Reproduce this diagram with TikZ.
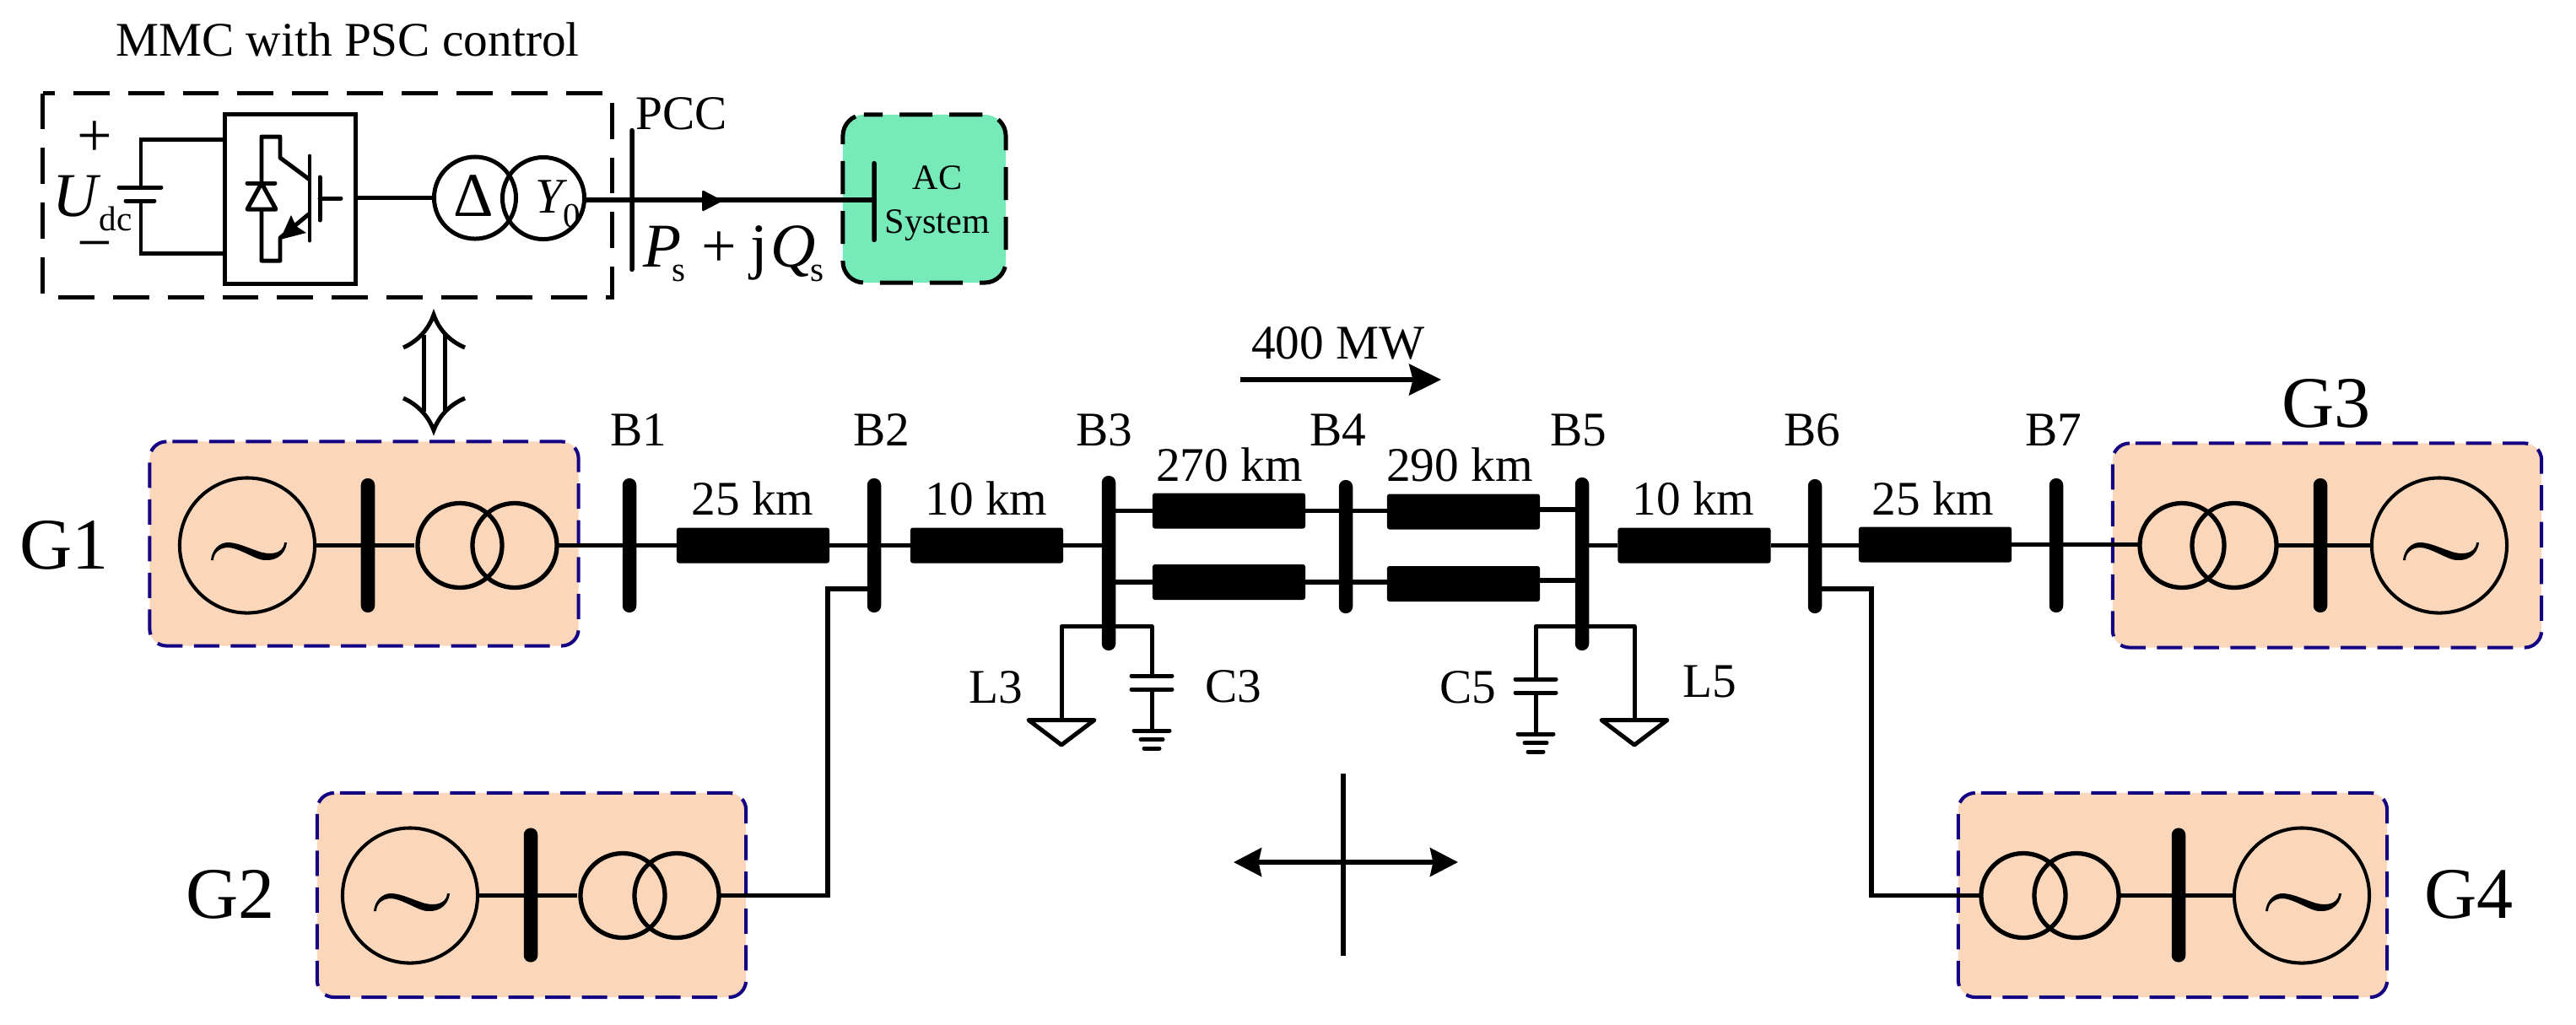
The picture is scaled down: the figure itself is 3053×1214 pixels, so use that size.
\documentclass[tikz,border=0pt]{standalone}
\usepackage{fontspec}
\setmainfont{Liberation Serif}
\usetikzlibrary{arrows.meta}
\definecolor{peach}{RGB}{250,215,187}
\definecolor{navybox}{RGB}{20,0,130}
\definecolor{acgreen}{RGB}{118,235,185}
\tikzset{
  wire/.style={line width=1.5pt,line join=miter,black},
  thinw/.style={line width=1.42pt,line join=round,black},
  bus/.style={rectangle,fill=black,rounded corners=2.3pt,minimum width=0.165cm,minimum height=1.59cm,inner sep=0pt,outer sep=0pt},
  thinbus/.style={rectangle,fill=black,rounded corners=0.7pt,minimum width=0.055cm,inner sep=0pt,outer sep=0pt},
  tline/.style={rectangle,fill=black,rounded corners=0.8pt,minimum width=1.81cm,minimum height=0.42cm,inner sep=0pt,outer sep=0pt},
  genr/.style={circle,draw=black,line width=1.15pt,minimum size=1.6cm,inner sep=0pt,outer sep=0pt},
  xfm/.style={circle,draw=black,line width=1.5pt,minimum size=1.0cm,inner sep=0pt,outer sep=0pt},
  xfd/.style={circle,draw=black,line width=1.42pt,minimum size=0.97cm,inner sep=0pt,outer sep=0pt},
  genbox/.style={rectangle,fill=peach,rounded corners=0.2cm,minimum width=5.08cm,minimum height=2.42cm,inner sep=0pt,outer sep=0pt},
  gendash/.style={draw=navybox,line width=1.15pt,rounded corners=0.2cm,dash pattern=on 8.54pt off 3.84pt,dash phase=10.4pt},
  lab/.style={font=\fontsize{16.3}{18}\selectfont,inner sep=0pt,outer sep=0pt},
  biglab/.style={font=\fontsize{24.5}{27}\selectfont,inner sep=0pt,outer sep=0pt},
  bare/.style={inner sep=0pt,outer sep=0pt},
  tiptop/.style={-{Stealth[length=10.8pt,width=10.5pt,inset=1.3pt]}},
  tipboth/.style={{Stealth[length=9.4pt,width=9.6pt,inset=1pt]}-{Stealth[length=9.4pt,width=9.6pt,inset=1pt]}},
}
\newcommand{\mytilde}[2]{%
  \fill[black,shift={(#1,#2)}] (-43,18) .. controls (-42,6) and (-33,-3) .. (-23,-3)
    .. controls (-12,-3) and (0,3) .. (12,7) .. controls (24,12) and (43,12) .. (44,-3)
    -- (47,-3) .. controls (45,14) and (30,21) .. (15,17)
    .. controls (5,14) and (-12,3) .. (-23,3) .. controls (-33,3) and (-40,10) .. (-40,18) -- cycle;}
\newcommand{\myload}[2]{%
  \draw[thinw,shift={(#1,#2)}] (-39,2.5) -- (39,2.5) -- (0,32) -- cycle;}
\newcommand{\mycap}[2]{%
  \begin{scope}[shift={(#1,#2)},line width=1.42pt,line cap=round]
    \draw (-24,0) -- (24,0);
    \draw (-24,16) -- (24,16);
    \draw[line cap=butt] (0,16) -- (0,65);
    \draw (-21,65) -- (21,65);
    \draw (-13,75.5) -- (13,75.5);
    \draw (-9,86) -- (9,86);
  \end{scope}}
\newcommand{\boxdash}[1]{%
  \draw[gendash] (#1.north west) -- (#1.north east) -- (#1.south east) -- (#1.south west) -- cycle;}
\newcommand{\subt}[1]{\raisebox{-5.1pt}{\fontsize{11.7}{12}\selectfont #1}}
\begin{document}
\begin{tikzpicture}[x=0.01cm,y=-0.01cm]
\path[use as bounding box,fill=white] (0,0) rectangle (3053,1214);

% generator boxes
\node[genbox] (g1box) at (431.5,644.5) {};
\node[genbox] (g2box) at (630,1061) {};
\node[genbox] (g3box) at (2758,646.5) {};
\node[genbox] (g4box) at (2575,1061) {};
\boxdash{g1box}
\boxdash{g2box}
\boxdash{g3box}
\boxdash{g4box}

% generators
\node[genr] (g1) at (293,646.5) {};
\node[genr] (g2) at (486,1061.5) {};
\node[genr] (g3) at (2891,646.5) {};
\node[genr] (g4) at (2728,1061.5) {};
\mytilde{293}{646}
\mytilde{486}{1062}
\mytilde{2891}{646}
\mytilde{2728}{1062}

% generator transformers
\node[xfm] (t1a) at (545,646.5) {};
\node[xfm] (t1b) at (610,646.5) {};
\node[xfm] (t2a) at (738,1061.5) {};
\node[xfm] (t2b) at (802,1061.5) {};
\node[xfm] (t3a) at (2586,646.5) {};
\node[xfm] (t3b) at (2648,646.5) {};
\node[xfm] (t4a) at (2398,1061.5) {};
\node[xfm] (t4b) at (2461,1061.5) {};

% buses
\node[bus] (gb1) at (436,646.5) {};
\node[bus] (gb2) at (629,1061) {};
\node[bus] (gb3) at (2750,646.5) {};
\node[bus] (gb4) at (2582,1061) {};
\node[bus] (b1) at (746,646.5) {};
\node[bus] (b2) at (1036,646.5) {};
\node[bus,minimum height=2.07cm] (b3) at (1314,667.5) {};
\node[bus,minimum height=1.58cm] (b4) at (1595,648) {};
\node[bus,minimum height=2.05cm] (b5) at (1875,668.5) {};
\node[bus] (b6) at (2151,647.5) {};
\node[bus] (b7) at (2437,646.5) {};

% line sections
\node[tline] (l12) at (892.5,646.5) {};
\node[tline] (l23) at (1169.5,646.5) {};
\node[tline] (l34a) at (1456.5,605.5) {};
\node[tline] (l34b) at (1456.5,690) {};
\node[tline] (l45a) at (1734.5,606.5) {};
\node[tline] (l45b) at (1734.5,692) {};
\node[tline] (l56) at (2008,646.5) {};
\node[tline] (l67) at (2293.5,645.5) {};

% connectors in the generators
\draw[wire,shorten >=1.1pt] (g1.east) -- (t1a.west);
\draw[wire,shorten >=1.1pt] (g2.east) -- (t2a.west);
\draw[wire] (t3b.east) -- (g3.west);
\draw[wire] (t4b.east) -- (g4.west);

% main line
\draw[wire] (t1b.east) -- (l12.west);
\draw[wire] (l12.east) -- (l23.west);
\draw[wire] (l23.east) -- (l23.east -| b3.center);
\draw[wire] (b3.center |- l34a.west) -- (l34a.west);
\draw[wire] (b3.center |- l34b.west) -- (l34b.west);
\draw[wire] (l34a.east) -- (l34a.east -| l45a.west);
\draw[wire] (l34b.east) -- (l34b.east -| l45b.west);
\coordinate (o5a) at (1875,604);
\coordinate (o5b) at (1875,688);
\draw[wire] (l45a.east |- o5a) -- (o5a);
\draw[wire] (l45b.east |- o5b) -- (o5b);
\draw[wire] (b5.center |- l56.west) -- (l56.west);
\draw[wire] (l56.east) -- (l56.east -| l67.west);
\draw[wire] (l67.east) -- (t3a.west |- l67.east);

% tie lines to G2 and G4
\coordinate (j2) at (981,698);
\coordinate (j6) at (2218,698);
\draw[wire] (b2.center |- j2) -- (j2) -- (j2 |- t2b.east) -- (t2b.east);
\draw[wire] (b6.center |- j6) -- (j6) -- (j6 |- t4a.west) -- (t4a.west);

% shunts
\coordinate (s3l) at (1258,742.5);
\coordinate (s3r) at (1365,742.5);
\coordinate (s5l) at (1820,742.5);
\coordinate (s5r) at (1937,742.5);
\coordinate (ld3) at (1258,851);
\coordinate (cp3) at (1365,801);
\coordinate (cp5) at (1820,805);
\coordinate (ld5) at (1937,851);
\draw[thinw] (ld3) -- (s3l) -- (s3r) -- (cp3);
\draw[thinw] (cp5) -- (s5l) -- (s5r) -- (ld5);
\myload{1258}{851}
\myload{1937}{851}
\mycap{1365}{801}
\mycap{1820}{805}

% MMC part
\node[rectangle,fill=acgreen,rounded corners=0.25cm,minimum width=1.93cm,minimum height=1.99cm,inner sep=0pt,outer sep=0pt] (acbox) at (1095.5,235.5) {};
\draw[line width=1.42pt,rounded corners=0.25cm,dash pattern=on 11.1pt off 5.7pt,dash phase=4.8pt] (acbox.north west) -- (acbox.north east) -- (acbox.south east) -- (acbox.south west) -- cycle;
\node[rectangle,minimum width=6.74cm,minimum height=2.41cm,inner sep=0pt,outer sep=0pt] (mmcbox) at (388,231.5) {};
\draw[line width=1.42pt,dash pattern=on 12.2pt off 6.26pt,dash phase=8.25pt] (mmcbox.north west) -- (mmcbox.north east) -- (mmcbox.south east) -- (mmcbox.south west) -- cycle;
\node[rectangle,draw=black,line width=1.42pt,minimum width=1.54cm,minimum height=2.0cm,inner sep=0pt,outer sep=0pt] (conv) at (344,236) {};

% dc side
\coordinate (wt) at (167,165);
\coordinate (wb) at (167,300);
\coordinate (cpa) at (167,222);
\coordinate (cpb) at (167,238);
\draw[thinw,line join=miter] (conv.west |- wt) -- (wt) -- (cpa);
\draw[thinw,line join=miter] (cpb) -- (wb) -- (conv.west |- wb);
\draw[line width=1.42pt,line cap=round] (141,222) -- (191,222);
\draw[line width=1.42pt,line cap=round] (149,238) -- (183,238);

% IGBT
\draw[thinw] (310,217) -- (310,162) -- (332,162) -- (332,187) -- (367,213);
\draw[thinw] (367,253) -- (332,282) -- (332,309) -- (310,309) -- (310,248);
\draw[thinw,line cap=round] (367,185) -- (367,285);
\draw[thinw,line cap=round] (379,210) -- (379,261);
\draw[thinw,line cap=round] (379,235) -- (404,235);
\fill[black] (332,284) -- (345,255) -- (351,268) -- (363,276) -- cycle;
\draw[thinw,line cap=round] (293,217) -- (326,217);
\draw[thinw] (293,248) -- (327,248) -- (310,217) -- cycle;

% transformer and output
\node[xfd] (tda) at (563,234.5) {};
\node[xfd] (tdb) at (644,235) {};
\draw[wire] (conv.east |- tda.west) -- (tda.west);
\node[thinbus,minimum height=1.7cm] (pcc) at (749,237) {};
\node[thinbus,minimum height=0.96cm] (acbus) at (1036,239) {};
\draw[wire] (pcc.center -| tdb.east) -- (pcc.center -| acbus.center);
\fill[black,rounded corners=0.5pt] (832,225) -- (857,238) -- (832,251) -- cycle;

% double arrow
\coordinate (da) at (514,373);
\coordinate (db) at (514,510);
\draw[line width=1.42pt] (502,397) -- (502,488);
\draw[line width=1.42pt] (527,397) -- (527,488);
\draw[line width=1.42pt] (478,412) .. controls (496,404) and (508,390) .. (da) .. controls (520,390) and (532,404) .. (551,412);
\draw[line width=1.42pt] (478,472) .. controls (496,480) and (508,494) .. (db) .. controls (520,494) and (532,480) .. (551,472);

% arrows
\coordinate (pa) at (1470,450);
\coordinate (pb) at (1708,450);
\draw[wire,tiptop] (pa) -- (pb);
\coordinate (ca) at (1462,1022);
\coordinate (cb) at (1728,1022);
\coordinate (cc) at (1592,917);
\coordinate (cd) at (1592,1133);
\draw[wire,tipboth] (ca) -- (cb);
\draw[wire] (cc) -- (cd);

% text
\node[lab] (title) at (412,47) {MMC with PSC control};
\node[lab] (tpcc) at (808,135) {PCC};
\node[bare,font=\fontsize{12}{15}\selectfont,align=center] (tac) at (1111,241) {AC\\System};
\node[lab] (tp) at (1586,407) {400 MW};
\node[lab] (tb1) at (757,510) {B1};
\node[lab] (tb2) at (1045,510) {B2};
\node[lab] (tb3) at (1309,510) {B3};
\node[lab] (tb4) at (1586,510) {B4};
\node[lab] (tb5) at (1871,510) {B5};
\node[lab] (tb6) at (2148,510) {B6};
\node[lab] (tb7) at (2434,510) {B7};
\node[lab] (d12) at (892,591) {25 km};
\node[lab] (d23) at (1169,591) {10 km};
\node[lab] (d34) at (1457,551) {270 km};
\node[lab] (d45) at (1730,551) {290 km};
\node[lab] (d56) at (2007,591) {10 km};
\node[lab] (d67) at (2291,591) {25 km};
\node[lab] (tl3) at (1180,815) {L3};
\node[lab] (tc3) at (1462,814) {C3};
\node[lab] (tc5) at (1740,815) {C5};
\node[lab] (tl5) at (2026,808) {L5};
\node[biglab] (tg1) at (76,646) {G1};
\node[biglab] (tg2) at (273,1060) {G2};
\node[biglab] (tg3) at (2757,478) {G3};
\node[biglab] (tg4) at (2926,1060) {G4};

% formula texts
\node[bare,anchor=center,font=\fontsize{21}{23}\selectfont] (tplus) at (112,165) {+};
\node[bare,anchor=center,font=\fontsize{21}{23}\selectfont] (tminus) at (112,299) {−};
\node[bare,anchor=base west,font=\fontsize{21}{23}\selectfont] (tu) at (63,256) {\textit{U}\kern-0.7pt\subt{dc}};
\node[bare,font=\fontsize{21}{23}\selectfont] (tdelta) at (561,232) {Δ};
\node[bare,anchor=base west,font=\fontsize{16.8}{18}\selectfont] (ty) at (634,252) {\textit{Y}\kern-1.4pt\subt{0}};
\node[bare,anchor=base west,font=\fontsize{21}{23}\selectfont] (tpq) at (762,316) {\textit{P}\kern-3pt\subt{s}\kern5.3pt+\kern4.8pt j\kern1pt\textit{Q}\kern-2pt\subt{s}};
\end{tikzpicture}
\end{document}
